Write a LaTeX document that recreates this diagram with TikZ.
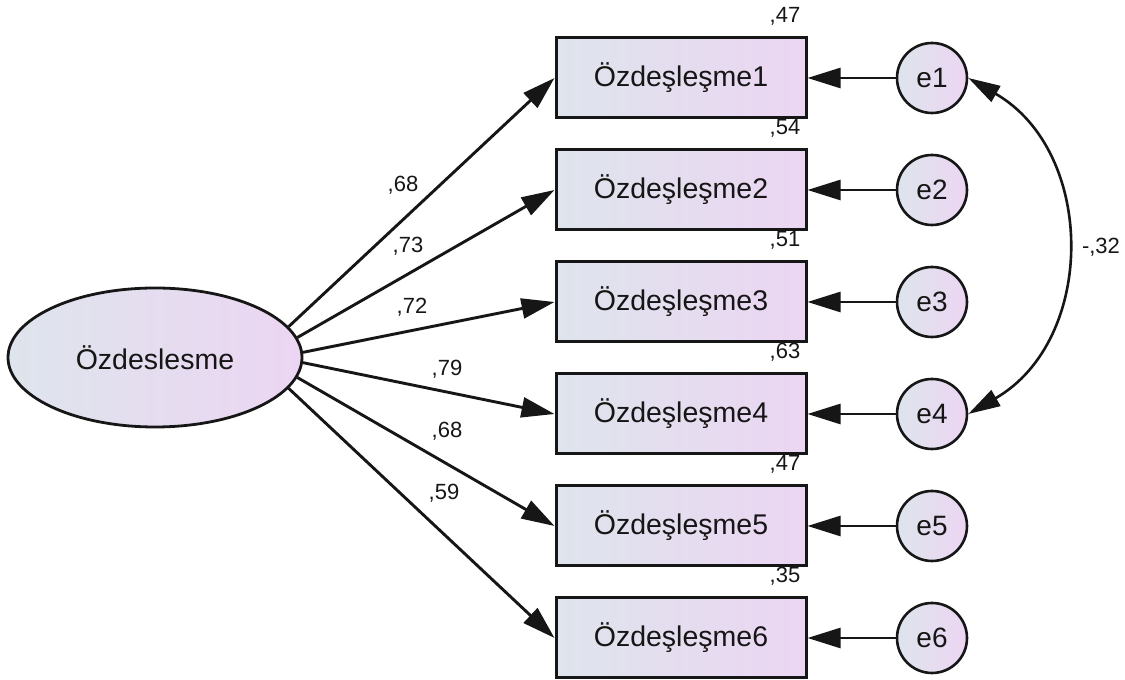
\documentclass[tikz,border=0pt]{standalone}
\usepackage{fontspec}
\setmainfont{Liberation Sans}
\usetikzlibrary{arrows.meta,shapes.geometric}
\definecolor{gl}{RGB}{222,229,236}
\definecolor{gr}{RGB}{236,213,243}
\definecolor{ink}{RGB}{22,22,22}
\begin{document}
\begin{tikzpicture}[x=1pt,y=1pt,
  obs/.style={draw=ink, line width=3pt, rectangle, minimum width=250pt, minimum height=80pt, inner sep=0pt, left color=gl, right color=gr, text=ink, font=\fontsize{28.5}{34}\selectfont},
  lat/.style={draw=ink, line width=2.8pt, ellipse, minimum width=294pt, minimum height=139pt, inner sep=0pt, left color=gl, right color=gr, text=ink, font=\fontsize{28.5}{34}\selectfont},
  err/.style={draw=ink, line width=2.6pt, circle, minimum size=70pt, inner sep=0pt, left color=gl, right color=gr, text=ink, font=\fontsize{28}{34}\selectfont},
  lab/.style={text=ink, inner sep=0pt, font=\fontsize{22}{26}\selectfont},
  arr/.style={draw=ink, line width=2.9pt, -{Triangle[length=33pt,width=20pt]}},
  cov/.style={draw=ink, line width=2.6pt, {Triangle[length=32pt,width=18pt]}-{Triangle[length=32pt,width=18pt]}}
]
\useasboundingbox (0,0) rectangle (1125,680);

\node[lat] (F) at (155,322.5) {Özdeslesme};

\foreach \i/\y in {1/602,2/490,3/378,4/266,5/154,6/42}{
  \node[obs] (b\i) at (681,\y) {Özdeşleşme\i};
  \node[err] (e\i) at (932,\y) {e\i};
}

% R-squared labels
\node[lab, anchor=base east] (r1) at ([xshift=-7pt,yshift=14pt]b1.north east) {,47};
\node[lab, anchor=base east] (r2) at ([xshift=-7pt,yshift=14pt]b2.north east) {,54};
\node[lab, anchor=base east] (r3) at ([xshift=-7pt,yshift=14pt]b3.north east) {,51};
\node[lab, anchor=base east] (r4) at ([xshift=-7pt,yshift=14pt]b4.north east) {,63};
\node[lab, anchor=base east] (r5) at ([xshift=-7pt,yshift=14pt]b5.north east) {,47};
\node[lab, anchor=base east] (r6) at ([xshift=-7pt,yshift=14pt]b6.north east) {,35};

% loadings
\draw[arr] (F.13.5) -- (b1.west);
\draw[arr] (F.8.2) -- (b2.west);
\draw[arr] (F.2.9) -- (b3.west);
\draw[arr] (F.-2.9) -- (b4.west);
\draw[arr] (F.-8.2) -- (b5.west);
\draw[arr] (F.-13.5) -- (b6.west);

\node[lab] (l1) at (403,495) {,68};
\node[lab] (l2) at (408,434) {,73};
\node[lab] (l3) at (412,373) {,72};
\node[lab] (l4) at (447,311) {,79};
\node[lab] (l5) at (447,249) {,68};
\node[lab] (l6) at (444,187) {,59};

% errors
\foreach \i in {1,...,6}{
  \draw[arr, line width=2.6pt] (e\i) -- (b\i);
}

% covariance
\draw[cov] (e1.east) to[out=-30, in=30, looseness=1.13] (e4.east);
\node[lab] (lc) at (1101,433) {-,32};
\end{tikzpicture}
\end{document}
